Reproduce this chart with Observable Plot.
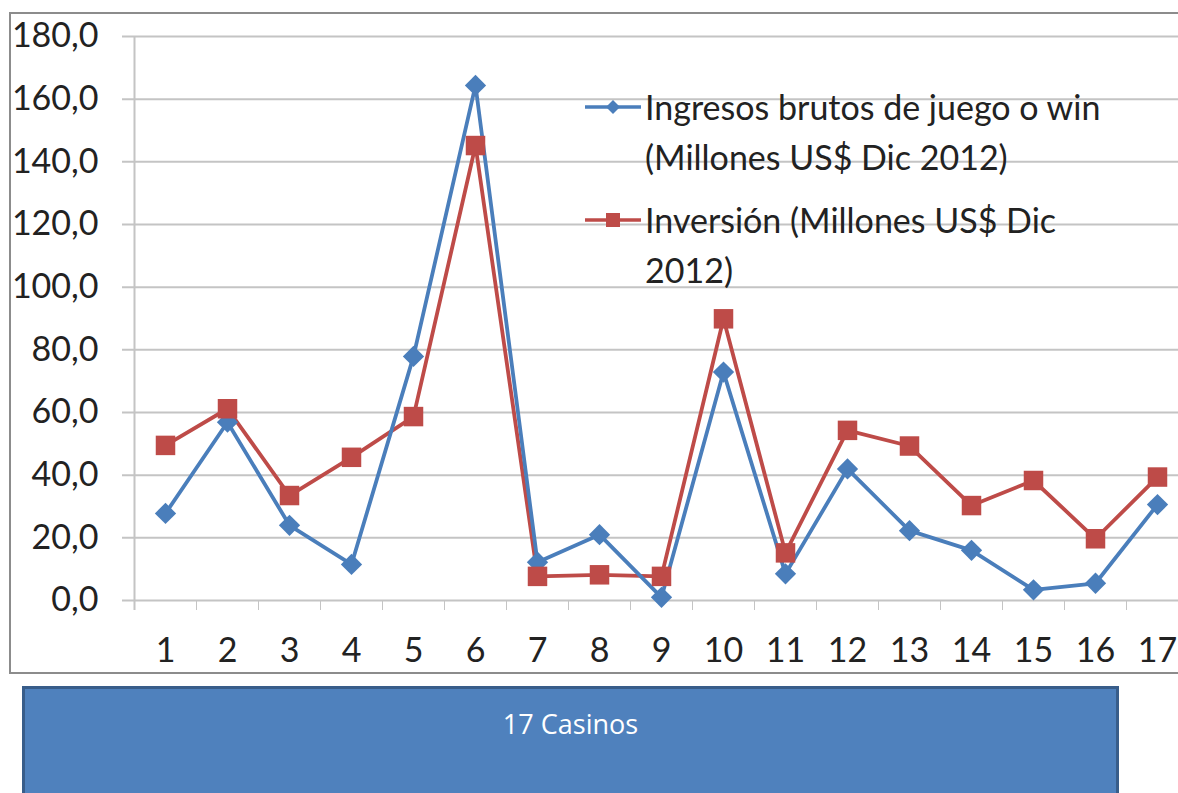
<!DOCTYPE html>
<html>
<head>
<meta charset="utf-8">
<script src="https://cdn.jsdelivr.net/npm/d3@7"></script>
<script src="https://cdn.jsdelivr.net/npm/@observablehq/plot@0.6"></script>
<style>
  html, body { margin: 0; padding: 0; background: #fff; width: 1178px; height: 793px; overflow: hidden; }
  #frame { position: absolute; left: 9px; top: 12px; width: 1200px; height: 658px; border: 2px solid #8c8c8c; background: #fff; }
  #chart { position: absolute; left: 0; top: 0; width: 1200px; }
  #chart svg { max-width: none !important; }
  .legend { position: absolute; left: 585px; font-family: Lato, sans-serif; font-size: 34px; color: #222; line-height: 50px; }
  .legend .row { position: relative; padding-left: 60px; }
  .legend svg { position: absolute; left: 0; top: 15px; }
  #box { position: absolute; left: 22px; top: 686px; width: 1097px; height: 120px; background: #4f81bd; border: 3px solid #385d8a; box-sizing: border-box; }
  #box div { text-align: center; color: #fff; font-family: "Open Sans", sans-serif; font-size: 27px; margin-top: 16px; }
</style>
</head>
<body>
<div id="frame"></div>
<div id="chart"></div>
<div class="legend" id="legend" style="top:82px"></div>
<div id="box"><div id="boxtext"></div></div>
<script>
const casinos = [1, 2, 3, 4, 5, 6, 7, 8, 9, 10, 11, 12, 13, 14, 15, 16, 17];
const win = [27.8, 56.9, 24.0, 11.5, 77.9, 164.4, 12.2, 21.0, 1.0, 72.9, 8.5, 42.0, 22.3, 16.0, 3.4, 5.5, 30.6];
const inversion = [49.5, 61.2, 33.5, 45.7, 58.7, 145.2, 7.7, 8.2, 7.7, 89.9, 15.2, 54.3, 49.3, 30.3, 38.3, 19.7, 39.4];
const yTicks = [0, 20, 40, 60, 80, 100, 120, 140, 160, 180];
const seriesNames = ["Ingresos brutos de juego o win (Millones US$ Dic 2012)", "Inversión (Millones US$ Dic 2012)"];
const seriesLegendLines = [["Ingresos brutos de juego o win", "(Millones US$ Dic 2012)"], ["Inversión (Millones US$ Dic", "2012)"]];
const caption = "17 Casinos";

const blue = "#4a7ebb", red = "#be4b48", grid = "#c4c4c4";
const fmt = (d) => d.toFixed(1).replace(".", ",");

const diamond = {draw(ctx, size) { const h = Math.sqrt(size / 2); ctx.moveTo(0, -h); ctx.lineTo(h, 0); ctx.lineTo(0, h); ctx.lineTo(-h, 0); ctx.closePath(); }};

const winData = casinos.map((c, i) => ({casino: c, value: win[i]}));
const invData = casinos.map((c, i) => ({casino: c, value: inversion[i]}));
const boundaries = [...casinos.map((c) => c - 0.5), casinos[casinos.length - 1] + 0.5];

const plot = Plot.plot({
  width: 1200,
  height: 672,
  marginTop: 36,
  marginBottom: 72,
  marginLeft: 134,
  marginRight: 12,
  style: {background: "transparent", color: grid, fontFamily: "Lato, sans-serif", fontSize: "34px", overflow: "visible", maxWidth: "none"},
  x: {type: "linear", domain: [0.5, 17.5], ticks: boundaries, tickSize: 10, tickFormat: () => "", label: null},
  y: {domain: [0, 180], axis: null},
  marks: [
    Plot.ruleY(yTicks, {stroke: grid, strokeWidth: 2, insetLeft: -12}),
    Plot.ruleX([boundaries[0]], {stroke: grid, strokeWidth: 2, insetBottom: -10}),
    Plot.text(yTicks, {y: (d) => d, text: fmt, frameAnchor: "left", dx: -36, textAnchor: "end", fill: "#222", fontSize: 34}),
    Plot.text(casinos, {x: (d) => d, text: (d) => String(d), frameAnchor: "bottom", dy: 61, fill: "#222", fontSize: 34}),
    Plot.line(invData, {x: "casino", y: "value", stroke: red, strokeWidth: 3.8}),
    Plot.line(winData, {x: "casino", y: "value", stroke: blue, strokeWidth: 3.8}),
    Plot.dot(winData, {x: "casino", y: "value", symbol: diamond, r: 8.5, fill: blue, stroke: null}),
    Plot.dot(invData, {x: "casino", y: "value", symbol: "square", r: 11, fill: red, stroke: null})
  ]
});
document.getElementById("chart").appendChild(plot);

// Legend
const legend = document.getElementById("legend");
seriesLegendLines.forEach((lines, k) => {
  const row = document.createElement("div");
  row.className = "row";
  row.style.marginBottom = k === 0 ? "13px" : "0";
  row.setAttribute("title", seriesNames[k]);
  const sw = k === 0
    ? `<svg width="56" height="20"><line x1="0" x2="56" y1="10" y2="10" stroke="${blue}" stroke-width="3.5"/><path d="M28,3L35,10L28,17L21,10Z" fill="${blue}"/></svg>`
    : `<svg width="56" height="20"><line x1="0" x2="56" y1="10" y2="10" stroke="${red}" stroke-width="3.5"/><rect x="21" y="3" width="14" height="14" fill="${red}"/></svg>`;
  row.innerHTML = sw + lines.map((t) => `<div>${t}</div>`).join("");
  legend.appendChild(row);
});
document.getElementById("boxtext").textContent = caption;
</script>
</body>
</html>
